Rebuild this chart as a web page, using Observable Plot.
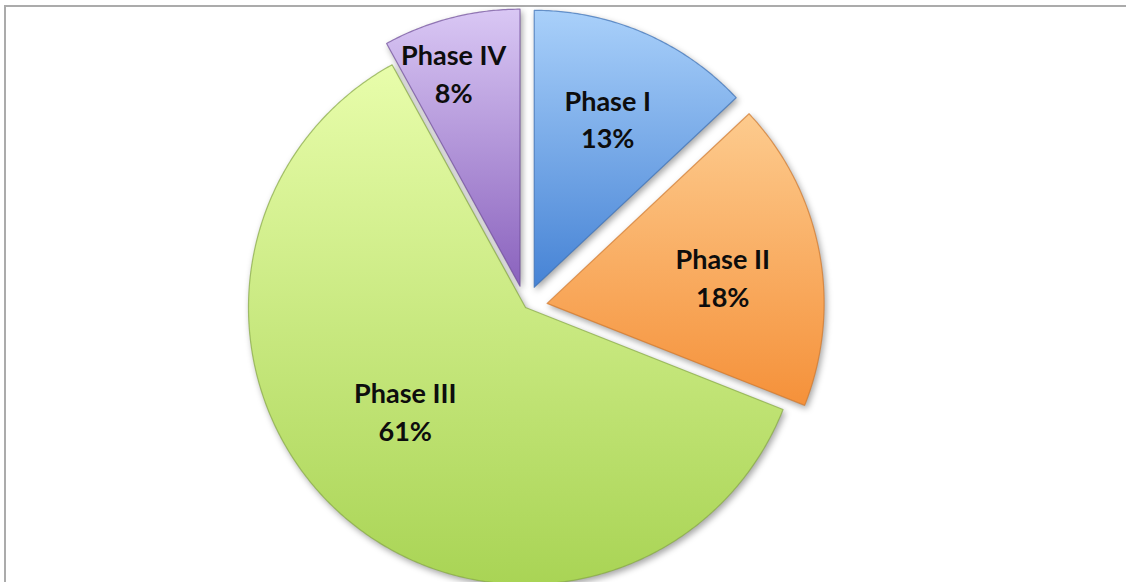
<!DOCTYPE html>
<html>
<head>
<meta charset="utf-8">
<script src="https://cdn.jsdelivr.net/npm/d3@7"></script>
<script src="https://cdn.jsdelivr.net/npm/@observablehq/plot@0.6"></script>
<style>
  html, body { margin: 0; padding: 0; background: #fff; }
  #wrap { position: relative; width: 1126px; height: 582px; overflow: hidden; background: #fff; }
  #border { position: absolute; left: 4px; top: 5px; width: 1200px; height: 700px; border-left: 2px solid #ababab; border-top: 2px solid #ababab; box-sizing: border-box; }
  #chart { position: absolute; left: 0; top: 0; }
  #chart svg g[aria-label="line"] path { filter: drop-shadow(2px 3px 3px rgba(0,0,0,0.35)); }
</style>
</head>
<body>
<div id="wrap"><div id="border"></div><div id="chart"></div></div>
<script>
// ---- data ----
const phases = ["Phase I", "Phase II", "Phase III", "Phase IV"];
const shares = [13, 18, 61, 8];

// ---- styles / layout ----
const topColors    = ["#a9d0fa", "#fdcb8e", "#e8fdab", "#d9c7f4"];
const bottomColors = ["#4683d5", "#f5913a", "#a9d455", "#8a62bd"];
const edgeColors   = ["#3a6fb5", "#d0782c", "#86a844", "#6e4c99"];
const explode      = [22, 22, 0, 22];       // px pulled out along mid-angle
const labelFrac    = [0.668, 0.642, 0.57, 0.81];
const labelNudge   = [0, 1.8, 8.2, -2.8];   // degrees
const W = 1126, H = 582, CX = 525, CY = 307, R = 277;

const arcs = d3.pie().sort(null).value(d => d)(shares);
const rad = Math.PI / 180;

const slicePoints = arcs.map((a, i) => {
  const mid = (a.startAngle + a.endAngle) / 2;
  const ox = CX + explode[i] * Math.sin(mid);
  const oy = CY - explode[i] * Math.cos(mid);
  const pts = [{x: ox, y: oy}];
  const n = Math.max(8, Math.ceil((a.endAngle - a.startAngle) / (0.5 * rad)));
  for (let k = 0; k <= n; k++) {
    const t = a.startAngle + (a.endAngle - a.startAngle) * k / n;
    pts.push({x: ox + R * Math.sin(t), y: oy - R * Math.cos(t)});
  }
  pts.push({x: ox, y: oy});
  return pts;
});

const labels = arcs.map((a, i) => {
  const mid = (a.startAngle + a.endAngle) / 2;
  const ox = CX + explode[i] * Math.sin(mid);
  const oy = CY - explode[i] * Math.cos(mid);
  const ang = mid + labelNudge[i] * rad;
  return {
    x: ox + labelFrac[i] * R * Math.sin(ang),
    y: oy - labelFrac[i] * R * Math.cos(ang),
    text: `${phases[i]}\n${shares[i]}%`
  };
});

const marks = [];
slicePoints.forEach((pts, i) => {
  marks.push(Plot.line(pts, {
    x: "x", y: "y", curve: "linear",
    fill: `url(#grad${i})`,
    stroke: edgeColors[i], strokeWidth: 1.2, strokeOpacity: 0.7, strokeLinejoin: "round"
  }));
});
marks.push(Plot.text(labels, {
  x: "x", y: "y", text: "text",
  fontSize: 27, fontWeight: "bold", fontFamily: "Lato, 'Open Sans', sans-serif",
  lineHeight: 1.4, fill: "#0d0d0d", textAnchor: "middle", lineAnchor: "middle"
}));

const svg = Plot.plot({
  width: W, height: H,
  margin: 0,
  x: {domain: [0, W], range: [0, W], axis: null},
  y: {domain: [0, H], range: [0, H], axis: null},
  style: {background: "transparent", overflow: "visible"},
  marks
});

const defs = d3.select(svg).insert("defs", ":first-child");
topColors.forEach((c, i) => {
  const g = defs.append("linearGradient")
    .attr("id", `grad${i}`).attr("x1", 0).attr("y1", 0).attr("x2", 0).attr("y2", 1);
  g.append("stop").attr("offset", "0%").attr("stop-color", c);
  g.append("stop").attr("offset", "100%").attr("stop-color", bottomColors[i]);
});

document.getElementById("chart").appendChild(svg);
</script>
</body>
</html>
